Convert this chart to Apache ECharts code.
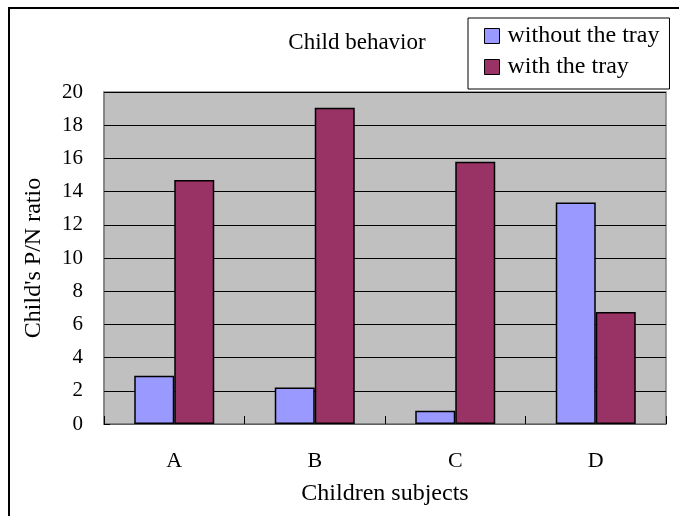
<!DOCTYPE html>
<html>
<head>
<meta charset="utf-8">
<script src="https://cdn.jsdelivr.net/npm/echarts@6/dist/echarts.min.js"></script>
<style>html,body{margin:0;padding:0;background:#fff}#c{width:679px;height:516px}</style>
</head>
<body>
<div id="c"></div>
<script>
const categories = ['A', 'B', 'C', 'D'];
const withoutTray = [2.9, 2.2, 0.8, 13.35];
const withTray = [14.7, 19.05, 15.8, 6.75];
const yTicks = { min: 0, max: 20, interval: 2 };
const titleText = 'Child behavior';
const xName = 'Children subjects';
const yName = "Child's P/N ratio";
const seriesNames = ['without the tray', 'with the tray'];

const FONT = '"Liberation Serif", "Times New Roman", serif';
const chart = echarts.init(document.getElementById('c'));
chart.setOption({
  animation: false,
  backgroundColor: '#fff',
  textStyle: { fontFamily: FONT, color: '#000' },
  title: {
    text: titleText, left: 352, top: 38, textAlign: 'center', textVerticalAlign: 'middle',
    textStyle: { fontFamily: FONT, fontWeight: 'normal', fontSize: 23, color: '#000' }
  },
  legend: {
    data: seriesNames, orient: 'vertical', left: 468, top: 18,
    backgroundColor: '#fff', borderColor: '#000', borderWidth: 1,
    padding: [6, 10, 10, 16],
    itemWidth: 15, itemHeight: 15, itemGap: 7, icon: 'rect',
    itemStyle: { borderColor: '#000', borderWidth: 1 },
    textStyle: { fontFamily: FONT, fontSize: 24, color: '#000', lineHeight: 24, padding: [0, 0, 0, 3] }
  },
  graphic: [{
    type: 'rect', shape: { x: 9, y: 8, width: 700, height: 540 },
    style: { fill: null, stroke: '#000', lineWidth: 2 }, silent: true, z: -1
  }],
  grid: {
    left: 104, right: 13, top: 92, bottom: 92, show: true,
    backgroundColor: '#c0c0c0', borderColor: '#808080', borderWidth: 1.5
  },
  xAxis: {
    type: 'category', data: categories,
    name: xName, nameLocation: 'middle', nameGap: 58,
    nameTextStyle: { fontFamily: FONT, fontSize: 24, color: '#000' },
    axisLine: { show: true, lineStyle: { color: '#808080', width: 1.5 } },
    axisTick: { show: true, inside: true, length: 8, lineStyle: { color: '#000' } },
    axisLabel: { fontFamily: FONT, fontSize: 22, color: '#000', margin: 26 }
  },
  yAxis: {
    type: 'value', min: yTicks.min, max: yTicks.max, interval: yTicks.interval,
    name: yName, nameLocation: 'middle', nameGap: 58,
    nameTextStyle: { fontFamily: FONT, fontSize: 24, color: '#000' },
    axisLine: { show: true, lineStyle: { color: '#808080', width: 1.5 } },
    axisTick: { show: true, inside: true, length: 6, lineStyle: { color: '#000' } },
    axisLabel: { fontFamily: FONT, fontSize: 21, color: '#000', margin: 21 },
    splitLine: { show: true, lineStyle: { color: '#000', width: 1 } }
  },
  series: [
    { name: seriesNames[0], type: 'bar', data: withoutTray, barWidth: 40, barGap: '0%',
      itemStyle: { color: '#9999ff', borderColor: '#000', borderWidth: 1.5 } },
    { name: seriesNames[1], type: 'bar', data: withTray, barWidth: 40, barGap: '0%',
      itemStyle: { color: '#993366', borderColor: '#000', borderWidth: 1.5 } }
  ]
});
</script>
</body>
</html>
